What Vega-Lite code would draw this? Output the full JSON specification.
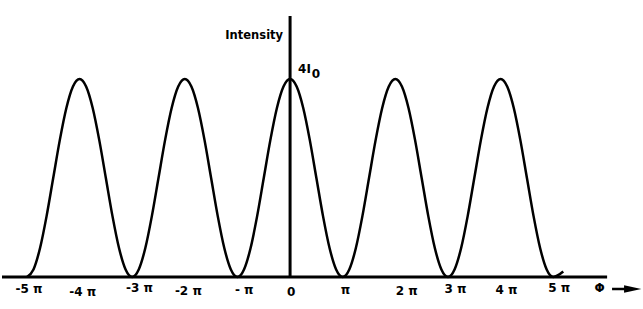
{
  "$schema": "https://vega.github.io/schema/vega-lite/v6.json",
  "width": 643,
  "height": 309,
  "padding": 0,
  "autosize": {"type": "fit", "contains": "padding"},
  "background": "white",
  "config": {"view": {"stroke": null}},
  "datasets": {
    "curve": [
      {"phi": -5, "I": 0}, {"phi": -4.875, "I": 0.152}, {"phi": -4.75, "I": 0.586}, {"phi": -4.625, "I": 1.235},
      {"phi": -4.5, "I": 2}, {"phi": -4.375, "I": 2.765}, {"phi": -4.25, "I": 3.414}, {"phi": -4.125, "I": 3.848},
      {"phi": -4, "I": 4}, {"phi": -3.875, "I": 3.848}, {"phi": -3.75, "I": 3.414}, {"phi": -3.625, "I": 2.765},
      {"phi": -3.5, "I": 2}, {"phi": -3.375, "I": 1.235}, {"phi": -3.25, "I": 0.586}, {"phi": -3.125, "I": 0.152},
      {"phi": -3, "I": 0}, {"phi": -2.875, "I": 0.152}, {"phi": -2.75, "I": 0.586}, {"phi": -2.625, "I": 1.235},
      {"phi": -2.5, "I": 2}, {"phi": -2.375, "I": 2.765}, {"phi": -2.25, "I": 3.414}, {"phi": -2.125, "I": 3.848},
      {"phi": -2, "I": 4}, {"phi": -1.875, "I": 3.848}, {"phi": -1.75, "I": 3.414}, {"phi": -1.625, "I": 2.765},
      {"phi": -1.5, "I": 2}, {"phi": -1.375, "I": 1.235}, {"phi": -1.25, "I": 0.586}, {"phi": -1.125, "I": 0.152},
      {"phi": -1, "I": 0}, {"phi": -0.875, "I": 0.152}, {"phi": -0.75, "I": 0.586}, {"phi": -0.625, "I": 1.235},
      {"phi": -0.5, "I": 2}, {"phi": -0.375, "I": 2.765}, {"phi": -0.25, "I": 3.414}, {"phi": -0.125, "I": 3.848},
      {"phi": 0, "I": 4}, {"phi": 0.125, "I": 3.848}, {"phi": 0.25, "I": 3.414}, {"phi": 0.375, "I": 2.765},
      {"phi": 0.5, "I": 2}, {"phi": 0.625, "I": 1.235}, {"phi": 0.75, "I": 0.586}, {"phi": 0.875, "I": 0.152},
      {"phi": 1, "I": 0}, {"phi": 1.125, "I": 0.152}, {"phi": 1.25, "I": 0.586}, {"phi": 1.375, "I": 1.235},
      {"phi": 1.5, "I": 2}, {"phi": 1.625, "I": 2.765}, {"phi": 1.75, "I": 3.414}, {"phi": 1.875, "I": 3.848},
      {"phi": 2, "I": 4}, {"phi": 2.125, "I": 3.848}, {"phi": 2.25, "I": 3.414}, {"phi": 2.375, "I": 2.765},
      {"phi": 2.5, "I": 2}, {"phi": 2.625, "I": 1.235}, {"phi": 2.75, "I": 0.586}, {"phi": 2.875, "I": 0.152},
      {"phi": 3, "I": 0}, {"phi": 3.125, "I": 0.152}, {"phi": 3.25, "I": 0.586}, {"phi": 3.375, "I": 1.235},
      {"phi": 3.5, "I": 2}, {"phi": 3.625, "I": 2.765}, {"phi": 3.75, "I": 3.414}, {"phi": 3.875, "I": 3.848},
      {"phi": 4, "I": 4}, {"phi": 4.125, "I": 3.848}, {"phi": 4.25, "I": 3.414}, {"phi": 4.375, "I": 2.765},
      {"phi": 4.5, "I": 2}, {"phi": 4.625, "I": 1.235}, {"phi": 4.75, "I": 0.586}, {"phi": 4.875, "I": 0.152},
      {"phi": 5, "I": 0}, {"phi": 5.19, "I": 0.11}
    ],
    "axes": [
      {"x1": -5.473, "x2": 6.023, "y1": 0, "y2": 0},
      {"x1": 0, "x2": 0, "y1": -0.01, "y2": 5.273}
    ],
    "ticks": [
      {"label": "-5 π", "phi": -4.962, "I": -0.242},
      {"label": "-4 π", "phi": -3.939, "I": -0.309},
      {"label": "-3 π", "phi": -2.86, "I": -0.228},
      {"label": "-2 π", "phi": -1.932, "I": -0.283},
      {"label": "- π", "phi": -0.871, "I": -0.257},
      {"label": "0", "phi": 0.019, "I": -0.297},
      {"label": "π", "phi": 1.055, "I": -0.263},
      {"label": "2 π", "phi": 2.216, "I": -0.283},
      {"label": "3 π", "phi": 3.144, "I": -0.248},
      {"label": "4 π", "phi": 4.11, "I": -0.263},
      {"label": "5 π", "phi": 5.114, "I": -0.228},
      {"label": "Φ", "phi": 5.881, "I": -0.229}
    ],
    "arrow": [{"x1": 6.117, "x2": 6.42, "y": -0.2424, "hx": 6.51}]
  },
  "layer": [
    {
      "data": {"name": "curve"},
      "mark": {"type": "line", "color": "black", "strokeWidth": 2.5, "interpolate": "monotone"},
      "encoding": {
        "x": {"field": "phi", "type": "quantitative", "axis": null, "scale": {"domain": [-5.473, 6.705], "nice": false, "zero": false}},
        "y": {"field": "I", "type": "quantitative", "axis": null, "scale": {"domain": [-0.6465, 5.596], "nice": false, "zero": false}}
      }
    },
    {
      "data": {"name": "axes"},
      "mark": {"type": "rule", "color": "black", "strokeWidth": 3},
      "encoding": {
        "x": {"field": "x1", "type": "quantitative"},
        "x2": {"field": "x2"},
        "y": {"field": "y1", "type": "quantitative"},
        "y2": {"field": "y2"}
      }
    },
    {
      "data": {"name": "arrow"},
      "mark": {"type": "rule", "color": "black", "strokeWidth": 2.5},
      "encoding": {
        "x": {"field": "x1", "type": "quantitative"},
        "x2": {"field": "x2"},
        "y": {"field": "y", "type": "quantitative"}
      }
    },
    {
      "data": {"name": "arrow"},
      "mark": {"type": "point", "filled": true, "color": "black", "opacity": 1, "size": 300, "shape": "M -1 -0.42 L 1 0 L -1 0.42 Z"},
      "encoding": {
        "x": {"field": "hx", "type": "quantitative"},
        "y": {"field": "y", "type": "quantitative"}
      }
    },
    {
      "data": {"name": "ticks"},
      "mark": {"type": "text", "font": "DejaVu Sans", "fontWeight": "bold", "fontSize": 12, "color": "black", "align": "center", "baseline": "middle"},
      "encoding": {
        "x": {"field": "phi", "type": "quantitative"},
        "y": {"field": "I", "type": "quantitative"},
        "text": {"field": "label"}
      }
    },
    {
      "data": {"values": [{"t": "Intensity", "phi": -0.133, "I": 4.818}]},
      "mark": {"type": "text", "font": "DejaVu Sans", "fontWeight": "bold", "fontSize": 11.5, "color": "black", "align": "right", "baseline": "alphabetic"},
      "encoding": {
        "x": {"field": "phi", "type": "quantitative"},
        "y": {"field": "I", "type": "quantitative"},
        "text": {"field": "t"}
      }
    },
    {
      "data": {"values": [{"t": "4I", "phi": 0.152, "I": 4.121}, {"t": "0", "phi": 0.411, "I": 4.014}]},
      "mark": {"type": "text", "font": "DejaVu Sans", "fontWeight": "bold", "fontSize": 12, "color": "black", "align": "left", "baseline": "alphabetic"},
      "encoding": {
        "x": {"field": "phi", "type": "quantitative"},
        "y": {"field": "I", "type": "quantitative"},
        "text": {"field": "t"}
      }
    }
  ]
}
